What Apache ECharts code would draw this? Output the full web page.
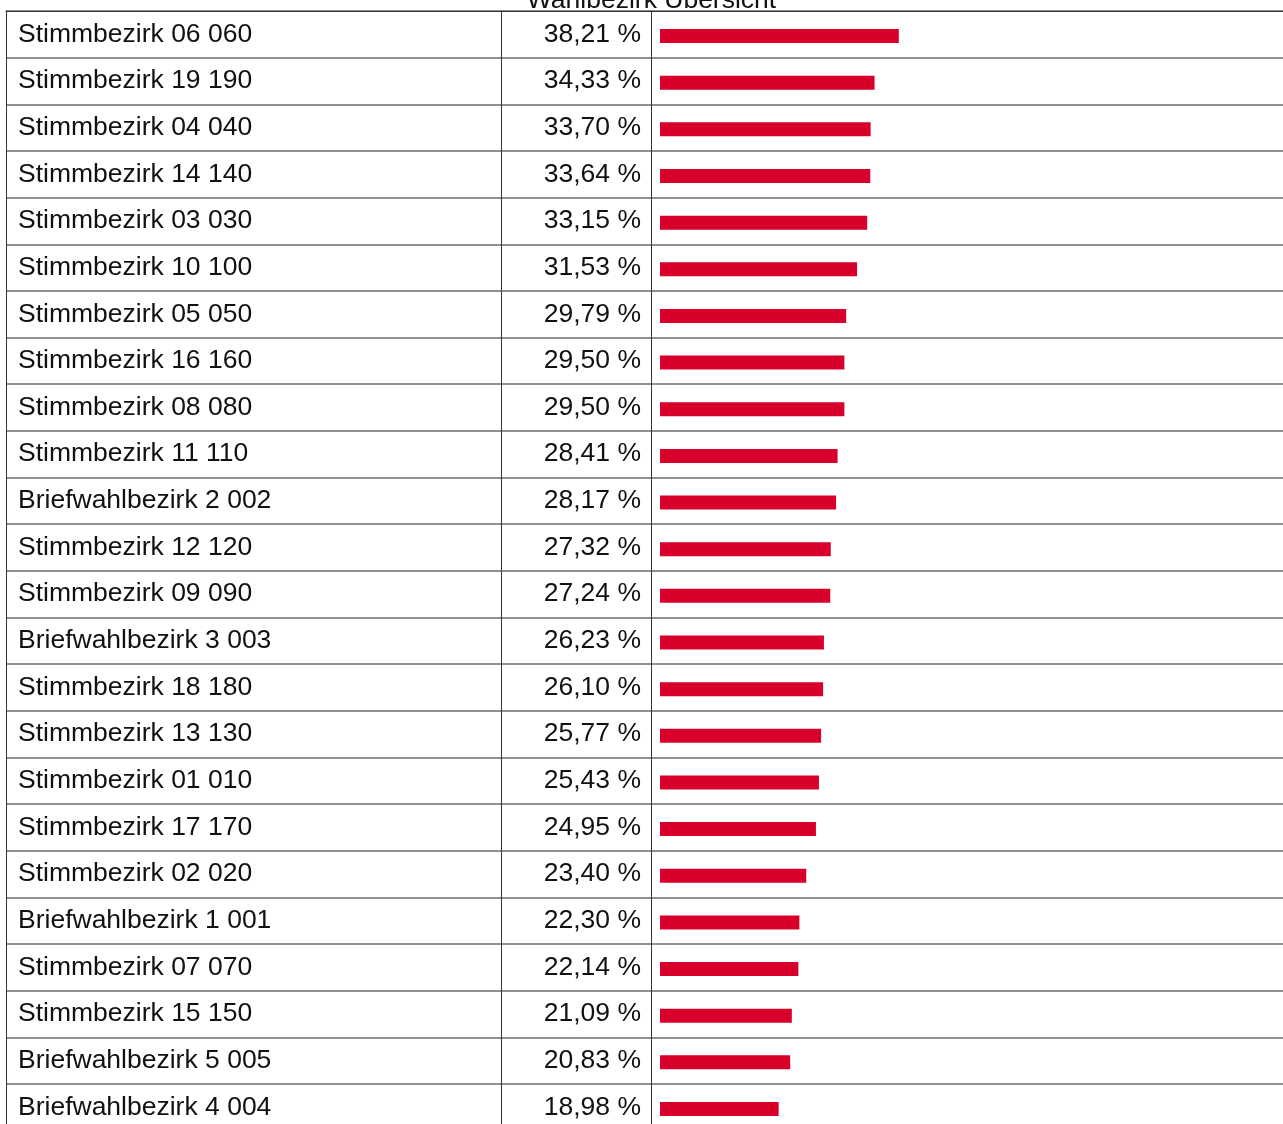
<!DOCTYPE html>
<html>
<head>
<meta charset="utf-8">
<title>Wahlbezirk Übersicht</title>
<script src="https://cdn.jsdelivr.net/npm/echarts@6/dist/echarts.min.js"></script>
<style>
  html, body { margin: 0; padding: 0; background: #fff; overflow: hidden; }
  #chart { width: 1303px; height: 1135px; }
</style>
</head>
<body>
<div id="chart"></div>
<script>
// District names, sorted by share (descending)
const districts = [
  'Stimmbezirk 06 060', 'Stimmbezirk 19 190', 'Stimmbezirk 04 040', 'Stimmbezirk 14 140',
  'Stimmbezirk 03 030', 'Stimmbezirk 10 100', 'Stimmbezirk 05 050', 'Stimmbezirk 16 160',
  'Stimmbezirk 08 080', 'Stimmbezirk 11 110', 'Briefwahlbezirk 2 002', 'Stimmbezirk 12 120',
  'Stimmbezirk 09 090', 'Briefwahlbezirk 3 003', 'Stimmbezirk 18 180', 'Stimmbezirk 13 130',
  'Stimmbezirk 01 010', 'Stimmbezirk 17 170', 'Stimmbezirk 02 020', 'Briefwahlbezirk 1 001',
  'Stimmbezirk 07 070', 'Stimmbezirk 15 150', 'Briefwahlbezirk 5 005', 'Briefwahlbezirk 4 004'
];

// Share per district in percent
const shares = [
  38.21, 34.33, 33.70, 33.64, 33.15, 31.53, 29.79, 29.50, 29.50, 28.41, 28.17, 27.32,
  27.24, 26.23, 26.10, 25.77, 25.43, 24.95, 23.40, 22.30, 22.14, 21.09, 20.83, 18.98
];

const FONT = '"Liberation Sans", Arial, sans-serif';
const FS = 26.5;
const ROW_H = 46.65;
const TOP = 11;
const TABLE_H = ROW_H * districts.length;
const DARK = '#333';
const ROW_LINE = '#8f8f8f';

const pctLabels = shares.map(v => v.toFixed(2).replace('.', ',') + ' %');

const chart = echarts.init(document.getElementById('chart'), null, { renderer: 'canvas' });

// One grid per table column; each draws its own row separators and borders
const grids = [
  { left: 6, width: 495, top: TOP, height: TABLE_H },      // name column
  { left: 501, width: 150, top: TOP, height: TABLE_H },    // percent column
  { left: 651, right: 0, top: TOP, height: TABLE_H },      // bar column (lines)
  { left: 660, width: 625, top: TOP + 1.7, height: TABLE_H } // bar column (bars)
];

const hiddenX = (gridIndex, showTop) => ({
  type: 'value', gridIndex, min: 0, max: 100, position: 'top',
  axisLine: { show: showTop, onZero: false, lineStyle: { color: DARK, width: 1 } },
  axisTick: { show: false }, axisLabel: { show: false }, splitLine: { show: false }
});

const rowAxis = (gridIndex, data, extra) => Object.assign({
  type: 'category', gridIndex, data, inverse: true,
  axisTick: { show: false },
  axisLine: { show: true, lineStyle: { color: DARK, width: 1 } },
  splitLine: { show: true, lineStyle: { color: ROW_LINE, width: 2 } },
  axisLabel: { show: false }
}, extra);

const cellText = {
  show: true, inside: true, fontFamily: FONT, fontSize: FS, color: '#111',
  padding: [6, 0, 0, 0]
};

const option = {
  animation: false,
  backgroundColor: '#fff',
  title: {
    text: 'Wahlbezirk Übersicht',
    left: 'center',
    top: -18,
    textStyle: { fontFamily: FONT, fontSize: FS, fontWeight: 'normal', color: '#111' }
  },
  grid: grids,
  xAxis: [hiddenX(0, true), hiddenX(1, true), hiddenX(2, true), hiddenX(3, false)],
  yAxis: [
    rowAxis(0, districts, {
      position: 'left',
      axisLabel: Object.assign({ margin: 12, align: 'left' }, cellText)
    }),
    rowAxis(1, pctLabels, { position: 'left' }),
    rowAxis(1, pctLabels, {
      position: 'right',
      splitLine: { show: false },
      axisLabel: Object.assign({ margin: 10, align: 'right' }, cellText)
    }),
    rowAxis(2, districts, { position: 'left', axisLine: { show: false } }),
    rowAxis(3, districts, { show: false, splitLine: { show: false } })
  ],
  series: [{
    type: 'bar',
    xAxisIndex: 3,
    yAxisIndex: 4,
    data: shares,
    barWidth: 14,
    itemStyle: { color: '#d8002b' },
    silent: true
  }]
};

chart.setOption(option);
</script>
</body>
</html>
